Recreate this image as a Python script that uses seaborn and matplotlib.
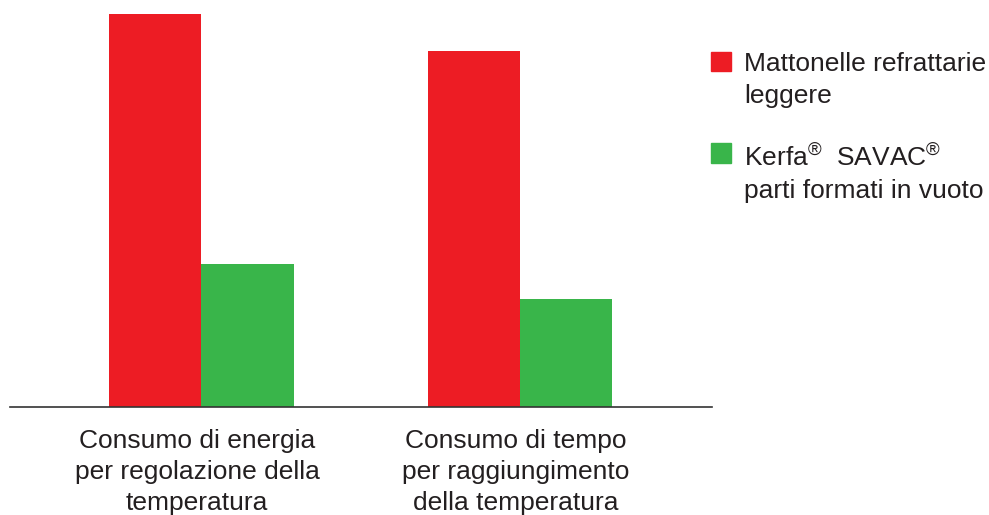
"""
Bar chart: refractory bricks vs Kerfa SAVAC vacuum-formed parts
"""
import pandas as pd
import matplotlib
matplotlib.use("Agg")
import matplotlib.pyplot as plt
import matplotlib.transforms as mtrans
import seaborn as sns

# Data (relative values, red bar of first group = 100)
categories = ["Consumo di energia\nper regolazione della\ntemperatura",
              "Consumo di tempo\nper raggiungimento\ndella temperatura"]
series_names = ["Mattonelle refrattarie\nleggere",
                "Kerfa$^{\\mathrm{®}}$  SAVAC$^{\\mathrm{®}}$\nparti formati in vuoto"]
bricks = [100, 90.6]
kerfa = [36.4, 27.5]
colors = ["#ED1C24", "#39B54A"]
text_color = "#231F20"

df = pd.DataFrame({
    "category": categories * 2,
    "series": [series_names[0]] * 2 + [series_names[1]] * 2,
    "value": bricks + kerfa,
})

# Style
sns.set_style("white")
plt.rcParams["font.family"] = ["Liberation Sans", "DejaVu Sans"]
plt.rcParams["mathtext.fontset"] = "custom"
plt.rcParams["mathtext.rm"] = "Liberation Sans"

fig = plt.figure(figsize=(9.89, 5.15), dpi=100)
ax = fig.add_axes([10 / 989, 108 / 515, 702 / 989, 393 / 515])

sns.barplot(data=df, x="category", y="value", hue="series",
            palette=colors, width=0.58, saturation=1, linewidth=0,
            ax=ax, legend=False)

ax.set_xlim(-0.599, 1.602)
ax.set_ylim(0, 100)
ax.set_xlabel("")
ax.set_ylabel("")
ax.set_yticks([])
ax.tick_params(axis="x", length=0, pad=16, labelsize=19, labelcolor=text_color)
shift = mtrans.ScaledTranslation(-4 / 100, 0, fig.dpi_scale_trans)
for lbl in ax.get_xticklabels():
    lbl.set_linespacing(1.35)
    lbl.set_transform(lbl.get_transform() + shift)
for spine in ["top", "right", "left"]:
    ax.spines[spine].set_visible(False)
ax.spines["bottom"].set_color("#333333")
ax.spines["bottom"].set_linewidth(1.2)

# Legend
handles = [plt.Rectangle((0, 0), 1, 1, color=c) for c in colors]
leg = fig.legend(handles, series_names, loc="upper left",
                 bbox_to_anchor=(700 / 989, 1 - 41 / 515), frameon=False,
                 fontsize=19, labelcolor=text_color, handlelength=0.76,
                 handleheight=0.76, handletextpad=0.52, labelspacing=1.35,
                 borderaxespad=0)
for t in leg.get_texts():
    t.set_linespacing(1.42)
# square next to the first line of each label
for col in leg._legend_handle_box.get_children():
    for item in col.get_children():
        item.align = "top"

plt.savefig("out.png", dpi=100)
